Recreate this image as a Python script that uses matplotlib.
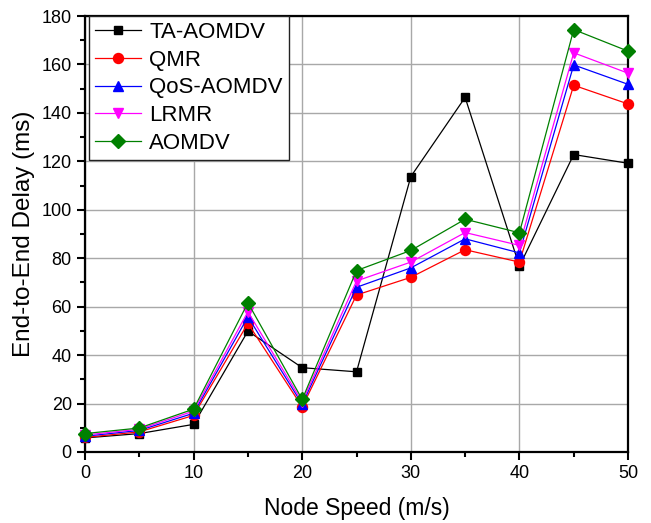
import matplotlib
matplotlib.use("Agg")
import matplotlib.pyplot as plt
from matplotlib.ticker import MultipleLocator

plt.rcParams['font.family'] = ['Liberation Sans', 'DejaVu Sans']

speed = [0, 5, 10, 15, 20, 25, 30, 35, 40, 45, 50]
ta_aomdv = [5.8, 7.6, 11.4, 49.9, 34.8, 33.1, 113.7, 146.4, 76.7, 122.8, 119.2]
qmr = [6.0, 8.3, 15.1, 53.1, 18.6, 64.8, 72.1, 83.5, 78.4, 151.4, 143.7]
qos_aomdv = [6.5, 8.9, 16.0, 55.8, 19.7, 68.0, 76.0, 88.0, 82.2, 159.8, 151.8]
lrmr = [7.0, 9.4, 16.9, 57.9, 20.7, 70.6, 78.4, 90.6, 85.3, 164.8, 156.4]
aomdv = [7.6, 9.9, 17.7, 61.6, 21.7, 74.9, 83.2, 96.1, 90.5, 174.4, 165.5]

series = [
    ("TA-AOMDV", ta_aomdv, "black", "s", 6.2),
    ("QMR", qmr, "red", "o", 7.2),
    ("QoS-AOMDV", qos_aomdv, "blue", "^", 7.5),
    ("LRMR", lrmr, "magenta", "v", 7.5),
    ("AOMDV", aomdv, "green", "D", 6.8),
]

fig = plt.figure(figsize=(6.51, 5.23), dpi=100)
ax = fig.add_axes([0.1306, 0.1358, 0.8341, 0.8336])

for name, vals, col, mk, ms in series:
    ax.plot(speed, vals, color=col, marker=mk, markersize=ms, linewidth=0.9,
            label=name, clip_on=False, zorder=3)

ax.set_xlim(0, 50)
ax.set_ylim(0, 180)
ax.xaxis.set_major_locator(MultipleLocator(10))
ax.xaxis.set_minor_locator(MultipleLocator(5))
ax.yaxis.set_major_locator(MultipleLocator(20))
ax.yaxis.set_minor_locator(MultipleLocator(10))
ax.grid(True, which='major', color='#a8a8a8', linewidth=1.0, zorder=0)
ax.set_axisbelow(True)

for s in ax.spines.values():
    s.set_linewidth(1.6)
ax.tick_params(which='major', direction='out', length=6, width=1.5,
               labelsize=13, top=False, right=False)
ax.tick_params(which='minor', direction='out', length=3.5, width=1.5,
               top=False, right=False)

ax.set_xlabel("Node Speed (m/s)", fontsize=16.5, labelpad=11)
ax.set_ylabel("End-to-End Delay (ms)", fontsize=17.5, labelpad=5)

leg = ax.legend(loc='upper left', bbox_to_anchor=(0.007, 1.0), borderaxespad=0,
                fontsize=16, frameon=True, fancybox=False,
                edgecolor='#222222', framealpha=1,
                handlelength=2.1, handletextpad=0.35, labelspacing=0.3,
                borderpad=0.27)
leg.get_frame().set_linewidth(1.0)

fig.savefig("out.png", dpi=100)
